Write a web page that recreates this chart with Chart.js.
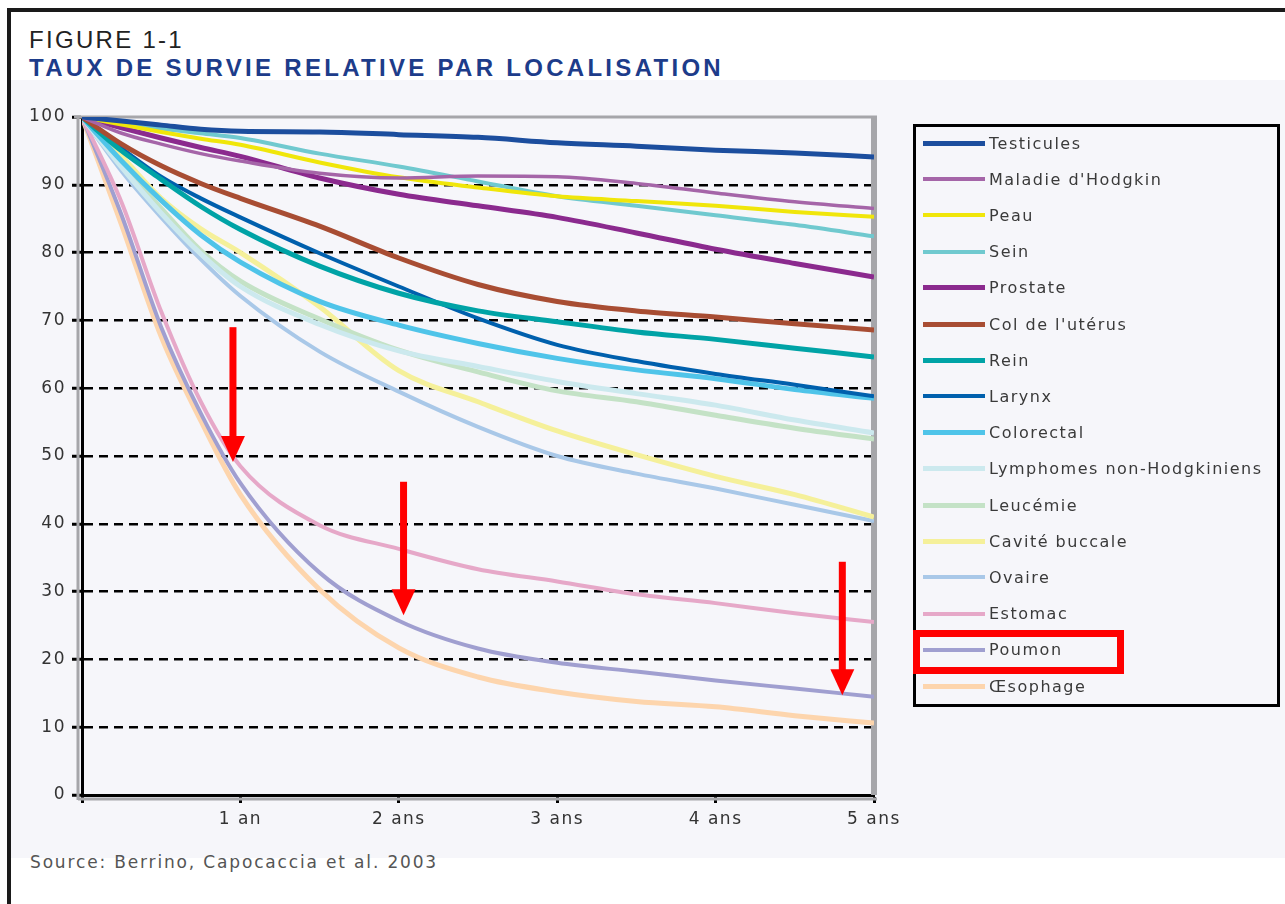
<!DOCTYPE html>
<html lang="fr">
<head>
<meta charset="utf-8">
<title>Taux de survie relative par localisation</title>
<script src="https://cdn.jsdelivr.net/npm/chart.js@4.4.1/dist/chart.umd.min.js"></script>
<style>
  html, body { margin: 0; padding: 0; }
  body { width: 1285px; height: 904px; position: relative; overflow: hidden; background: #fff; font-family: 'DejaVu Sans', sans-serif; }
  .frame-left { position: absolute; left: 7px; top: 8px; width: 4px; height: 896px; background: #1a1a1a; }
  .frame-top { position: absolute; left: 7px; top: 8px; width: 1278px; height: 4px; background: #1a1a1a; }
  .panel { position: absolute; left: 11px; top: 80px; width: 1274px; height: 778px; background: #f6f6fa; }
  .fit { position: absolute; white-space: nowrap; }
  .fig { left: 29px; top: 28px; font-family: 'Liberation Sans', sans-serif; font-size: 24px; line-height: 24px; color: #222; }
  .title { left: 29px; top: 56px; font-family: 'Liberation Sans', sans-serif; font-weight: bold; font-size: 24px; line-height: 24px; color: #1d3c8a; }
  .source { left: 30px; top: 852px; font-size: 17px; line-height: 20px; color: #555; }
  canvas { position: absolute; left: 0; top: 0; }
  .legend { position: absolute; left: 913px; top: 124px; width: 367px; height: 583px; border: 3px solid #000; box-sizing: border-box; }
  .row { position: absolute; left: 7px; height: 20px; display: flex; align-items: center; }
  .swatch { width: 62px; margin-right: 4px; }
  .row span { font-size: 16px; letter-spacing: 1.5px; color: #3a3a3a; white-space: nowrap; }
  .mark { position: absolute; left: 913px; top: 630px; width: 211px; height: 44px; border: 7px solid #ff0000; box-sizing: border-box; }
</style>
</head>
<body>
<div class="frame-left"></div>
<div class="frame-top"></div>
<div class="panel"></div>
<div class="fit fig" data-w="155">FIGURE 1-1</div>
<div class="fit title" data-w="695">TAUX DE SURVIE RELATIVE PAR LOCALISATION</div>
<div class="fit source" data-w="408">Source: Berrino, Capocaccia et al. 2003</div>
<canvas id="chart" width="1285" height="904"></canvas>
<div class="legend" id="legend"></div>
<div class="mark"></div>
<script>
// years since diagnosis
const times = [0, 0.25, 0.5, 0.75, 1, 1.5, 2, 2.5, 3, 3.5, 4, 4.5, 5];
const xTickLabels = ['', '1 an', '2 ans', '3 ans', '4 ans', '5 ans'];

const names = ['Testicules', "Maladie d'Hodgkin", 'Peau', 'Sein', 'Prostate', "Col de l'utérus", 'Rein', 'Larynx',
  'Colorectal', 'Lymphomes non-Hodgkiniens', 'Leucémie', 'Cavité buccale', 'Ovaire', 'Estomac', 'Poumon', 'Œsophage'];

// relative survival (%)
const testicules = [100, 99.4, 98.8, 98.2, 97.9, 97.8, 97.4, 97.0, 96.2, 95.7, 95.1, 94.7, 94.1];
const hodgkin    = [100, 97.6, 96.0, 94.6, 93.5, 91.7, 91.0, 91.3, 91.2, 90.2, 88.8, 87.5, 86.5];
const peau       = [100, 98.9, 97.8, 96.8, 95.9, 93.3, 91.1, 89.6, 88.3, 87.6, 86.9, 86.0, 85.3];
const sein       = [100, 99.2, 98.3, 97.6, 96.9, 94.6, 92.7, 90.5, 88.3, 86.9, 85.5, 84.1, 82.4];
const prostate   = [100, 98.4, 96.9, 95.5, 94.2, 91.0, 88.6, 86.9, 85.2, 82.9, 80.5, 78.4, 76.4];
const col        = [100, 96.0, 92.8, 90.2, 88.0, 83.9, 79.2, 75.3, 72.8, 71.4, 70.5, 69.5, 68.6];
const rein       = [100, 95.0, 90.8, 86.8, 83.4, 78.0, 74.0, 71.4, 69.8, 68.3, 67.2, 65.9, 64.6];
const larynx     = [100, 95.4, 91.2, 88.0, 85.2, 79.9, 75.0, 70.3, 66.4, 64.0, 62.1, 60.5, 58.8];
const colorectal = [100, 93.5, 87.7, 82.6, 78.6, 72.8, 69.3, 66.6, 64.4, 62.7, 61.4, 59.8, 58.5];
const lymphomes  = [100, 92.6, 85.8, 79.8, 75.0, 69.4, 65.5, 63.2, 61.0, 59.2, 57.5, 55.3, 53.4];
const leucemie   = [100, 93.0, 86.5, 80.3, 75.8, 70.2, 65.6, 62.4, 59.6, 58.0, 56.0, 54.1, 52.5];
const cavite     = [100, 94.2, 88.0, 83.5, 80.0, 72.0, 62.6, 58.0, 53.7, 50.2, 47.0, 44.3, 41.0];
const ovaire     = [100, 92.0, 85.2, 79.0, 73.6, 65.4, 59.5, 54.3, 50.0, 47.4, 45.2, 42.8, 40.4];
const estomac    = [100, 87.4, 71.3, 58.0, 48.5, 39.8, 36.3, 33.3, 31.5, 29.6, 28.3, 26.8, 25.5];
const poumon     = [100, 85.5, 69.0, 56.3, 46.0, 32.8, 25.7, 21.6, 19.5, 18.2, 16.9, 15.7, 14.5];
const oesophage  = [100, 84.1, 67.6, 55.2, 44.3, 30.3, 21.7, 17.4, 15.2, 13.8, 13.0, 11.7, 10.6];

const seriesValues = [testicules, hodgkin, peau, sein, prostate, col, rein, larynx,
  colorectal, lymphomes, leucemie, cavite, ovaire, estomac, poumon, oesophage];

const colors = ['#1c4e9e', '#a565a8', '#f0e60a', '#70c9cf', '#8b2a8e', '#a84d33', '#00a3a6', '#0060ad',
  '#4fc4e9', '#cce9ee', '#c4e2c6', '#f5f09a', '#a9c8e8', '#e6a8c8', '#a09fd0', '#fdd5ad'];
const widths = [5, 3.5, 4, 4, 5, 5, 5, 4, 5, 5, 5, 5, 4, 4, 4, 5];

// red arrows: [year, from %, to %]
const arrows = [[0.953, 69.0, 49.1], [2.03, 46.2, 26.5], [4.8, 34.4, 14.7]];

// stretch the titles to the widths they have in the figure
document.querySelectorAll('.fit').forEach(el => {
  const target = +el.dataset.w;
  const n = el.textContent.length;
  const w = el.getBoundingClientRect().width;
  el.style.letterSpacing = ((target - w) / n) + 'px';
});

// legend
const legend = document.getElementById('legend');
names.forEach((name, i) => {
  const row = document.createElement('div');
  row.className = 'row';
  row.style.top = (16 - 10 + i * 36.2) + 'px';
  const sw = document.createElement('div');
  sw.className = 'swatch';
  sw.style.height = widths[i] + 'px';
  sw.style.background = colors[i];
  const label = document.createElement('span');
  label.textContent = name;
  row.appendChild(sw);
  row.appendChild(label);
  legend.appendChild(row);
});

const framePlugin = {
  id: 'frame',
  beforeLayout(chart) { chart.ctx.letterSpacing = '1.5px'; },
  beforeDraw(chart) { chart.ctx.letterSpacing = '1.5px'; },
  beforeDatasetsDraw(chart) {
    const { ctx, chartArea: a } = chart;
    ctx.save();
    ctx.strokeStyle = '#a6a6aa';
    ctx.lineWidth = 3;
    ctx.beginPath(); ctx.moveTo(74, a.top); ctx.lineTo(a.right + 3, a.top); ctx.stroke();
    ctx.beginPath(); ctx.moveTo(a.left - 4, a.top); ctx.lineTo(a.left - 4, a.bottom + 5); ctx.stroke();
    ctx.beginPath(); ctx.moveTo(a.left - 4, a.bottom + 4); ctx.lineTo(a.right + 3, a.bottom + 4); ctx.stroke();
    ctx.lineWidth = 6;
    ctx.beginPath(); ctx.moveTo(a.right, a.top - 1); ctx.lineTo(a.right, a.bottom); ctx.stroke();
    ctx.restore();
  },
  afterDraw(chart) {
    const { ctx, scales: { x, y } } = chart;
    ctx.save();
    ctx.fillStyle = '#ff0000';
    arrows.forEach(([t, from, to]) => {
      const px = x.getPixelForValue(t);
      const y0 = y.getPixelForValue(from);
      const y1 = y.getPixelForValue(to);
      const headH = 26, headW = 24, shaft = 7;
      ctx.fillRect(px - shaft / 2, y0, shaft, y1 - y0 - headH + 1);
      ctx.beginPath();
      ctx.moveTo(px - headW / 2, y1 - headH);
      ctx.lineTo(px + headW / 2, y1 - headH);
      ctx.lineTo(px, y1);
      ctx.closePath();
      ctx.fill();
    });
    ctx.restore();
  }
};

const tickFont = { family: "'DejaVu Sans', sans-serif", size: 17 };

new Chart(document.getElementById('chart'), {
  type: 'line',
  data: {
    datasets: names.map((name, i) => ({
      label: name,
      data: times.map((t, k) => ({ x: t, y: seriesValues[i][k] })),
      borderColor: colors[i],
      borderWidth: widths[i],
      pointRadius: 0,
      cubicInterpolationMode: 'monotone',
      fill: false
    }))
  },
  options: {
    responsive: false,
    animation: false,
    devicePixelRatio: 1,
    layout: { padding: { left: 0, top: 117, right: 411, bottom: 64 } },
    plugins: { legend: { display: false }, tooltip: { enabled: false } },
    scales: {
      x: {
        type: 'linear',
        min: 0,
        max: 5,
        ticks: { stepSize: 1, color: '#333', font: tickFont, padding: 6, maxRotation: 0, callback: v => xTickLabels[v] },
        grid: { drawOnChartArea: false, drawTicks: true, tickLength: 8, tickColor: '#000', tickWidth: 3 },
        border: { color: '#000', width: 3 },
        afterFit: s => { s.height = 45; }
      },
      y: {
        min: 0,
        max: 100,
        ticks: { stepSize: 10, color: '#333', font: tickFont, padding: 6 },
        grid: {
          color: c => (c.tick && (c.tick.value === 100 || c.tick.value === 0)) ? 'rgba(0,0,0,0)' : '#000',
          lineWidth: 2.5,
          tickLength: 10,
          tickColor: '#000',
          tickWidth: 3
        },
        border: { color: '#000', width: 3, dash: [9, 6] },
        afterFit: s => { s.width = 82; }
      }
    }
  },
  plugins: [framePlugin]
});
</script>
</body>
</html>
